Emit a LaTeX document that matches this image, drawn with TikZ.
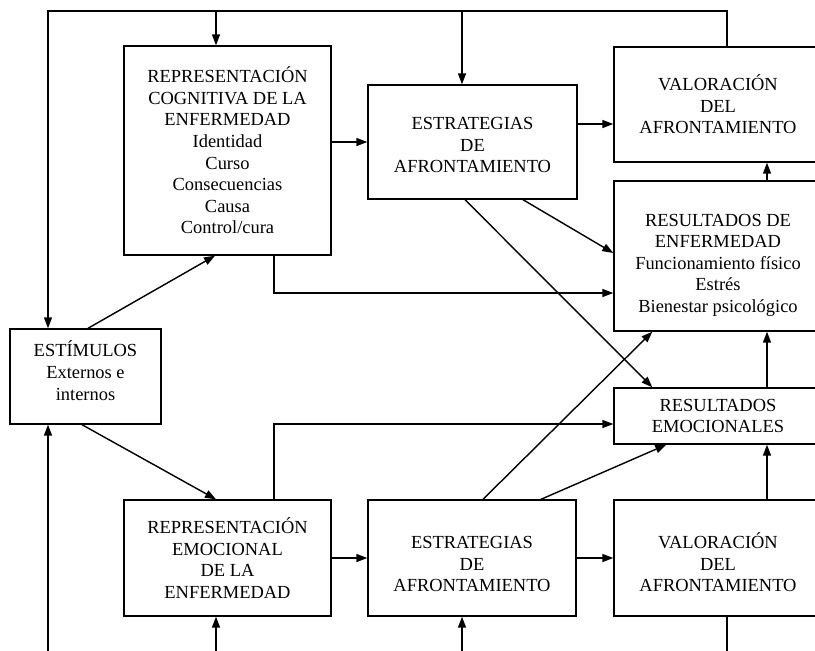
\documentclass[tikz,border=0pt]{standalone}
\usepackage{fontspec}
\setmainfont{Liberation Serif}
\usetikzlibrary{arrows.meta}

\begin{document}
\begin{tikzpicture}[x=0.02cm, y=-0.02cm, line width=0.8pt,
  box/.style={draw, rectangle, align=center, inner sep=2pt, font=\fontsize{10.5}{12.3}\selectfont},
  arr/.style={-{Triangle[length=2.2mm,width=1.6mm]}}]
\useasboundingbox (0,0) rectangle (815,650);
\clip (0,0) rectangle (815,650);
\node[box, minimum width=4.14cm, minimum height=4.18cm] (cog) at (227.5,150.5) {REPRESENTACIÓN\\COGNITIVA DE LA\\ENFERMEDAD\\Identidad\\Curso\\Consecuencias\\Causa\\Control/cura};
\node[box, minimum width=4.18cm, minimum height=2.28cm] (est1) at (472.5,142) {\rule{0pt}{0.37cm}ESTRATEGIAS\\DE\\AFRONTAMIENTO};
\node[box, minimum width=4.16cm, minimum height=2.3cm] (val1) at (718,104.5) {VALORACIÓN\\DEL\\AFRONTAMIENTO};
\node[box, minimum width=4.16cm, minimum height=3cm] (resenf) at (718,256) {\rule{0pt}{0.61cm}RESULTADOS DE\\ENFERMEDAD\\Funcionamiento físico\\Estrés\\Bienestar psicológico};
\node[box, minimum width=3.02cm, minimum height=1.9cm] (estim) at (85.5,376.5) {ESTÍMULOS\\Externos e\\internos\rule[-0.24cm]{0pt}{0pt}};
\node[box, minimum width=4.16cm, minimum height=1.12cm] (resemo) at (718,416) {RESULTADOS\\EMOCIONALES};
\node[box, minimum width=4.14cm, minimum height=2.32cm] (emo) at (227.5,558) {REPRESENTACIÓN\\EMOCIONAL\\DE LA\\ENFERMEDAD};
\node[box, minimum width=4.16cm, minimum height=2.32cm] (est2) at (472,558) {\rule{0pt}{0.49cm}ESTRATEGIAS\\DE\\AFRONTAMIENTO};
\node[box, minimum width=4.16cm, minimum height=2.32cm] (val2) at (718,558) {\rule{0pt}{0.49cm}VALORACIÓN\\DEL\\AFRONTAMIENTO};
\coordinate (top) at (48,11);
\coordinate (t1) at (216,11);
\coordinate (t2) at (462,11);
\coordinate (bot) at (48,652);
\coordinate (b1) at (216,652);
\coordinate (b2) at (462,652);
\draw[arr] ([xshift=0.18cm]val1.north) |- (top) -- (top |- estim.north);
\draw[arr] (t1) -- (t1 |- cog.north);
\draw[arr] (t2) -- (t2 |- est1.north);
\draw[arr] ([xshift=0.18cm]val2.south) |- (bot) -- (bot |- estim.south);
\draw[arr] (b1) -- (b1 |- emo.south);
\draw[arr] (b2) -- (b2 |- est2.south);
\draw[arr] ([xshift=0.05cm]estim.north) -- ([xshift=-0.25cm]cog.south);
\draw[arr] ([xshift=-0.07cm]estim.south) -- ([xshift=-0.23cm]emo.north);
\draw[arr] (cog.east |- est1) -- (est1.west);
\draw[arr] ([yshift=0.36cm]est1.east) -- ([yshift=0.36cm]est1.east -| val1.west);
\draw[arr] ([xshift=0.93cm]cog.south) |- ([yshift=-0.74cm]resenf.west);
\draw[arr] ([xshift=1.01cm]est1.south) -- ([yshift=0.06cm]resenf.west);
\draw[arr] ([xshift=-0.15cm]est1.south) -- ([xshift=0.78cm]resemo.north west);
\draw[arr] ([xshift=0.93cm]emo.north) |- ([yshift=-0.16cm]resemo.west);
\draw[arr] ([xshift=0.22cm]est2.north) -- ([xshift=0.78cm]resenf.south west);
\draw[arr] ([xshift=1.38cm]est2.north) -- ([xshift=1.06cm]resemo.south west);
\draw[arr] (emo) -- (est2);
\draw[arr] (est2) -- (val2);
\draw[arr] ([xshift=0.98cm]val2.north) -- ([xshift=0.98cm]resemo.south);
\draw[arr] ([xshift=0.98cm]resemo.north) -- ([xshift=0.98cm]resenf.south);
\draw[arr] ([xshift=0.98cm]resenf.north) -- ([xshift=0.98cm]val1.south);
\end{tikzpicture}
\end{document}
